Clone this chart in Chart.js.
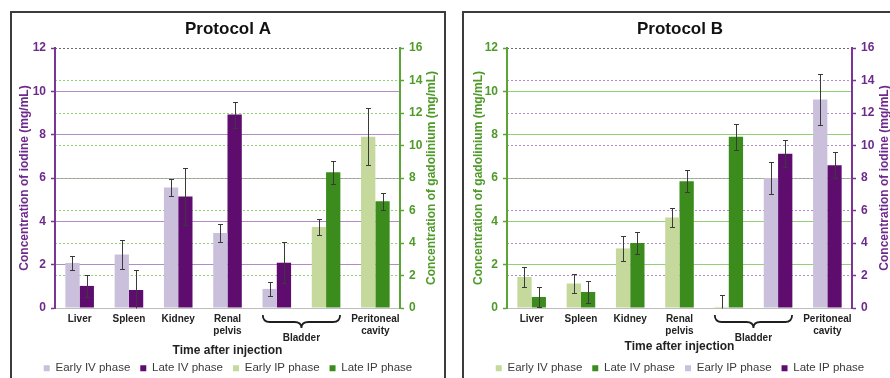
<!DOCTYPE html>
<html><head><meta charset="utf-8">
<script src="https://cdn.jsdelivr.net/npm/chart.js@4.4.0/dist/chart.umd.min.js"></script>
<style>
html,body{margin:0;padding:0;background:#fff;overflow:hidden;width:890px;height:378px;}
.panel{position:absolute;border:2px solid #3c3c3c;width:432px;height:371px;}
#pA{left:10px;top:11px;}
#pB{left:462px;top:11px;}
canvas{display:block;}
</style></head>
<body>
<div class="panel" id="pA"><canvas id="cA" width="432" height="371"></canvas></div>
<div class="panel" id="pB"><canvas id="cB" width="432" height="371"></canvas></div>
<script>
// ---------- data ----------
const categories = ["Liver", "Spleen", "Kidney", ["Renal", "pelvis"], "", "", ["Peritoneal", "cavity"]];
const bracketLabel = "Bladder";
const bracketFrom = 4;
const bracketTo = 5;
const seriesNames = ["Early IV phase", "Late IV phase", "Early IP phase", "Late IP phase"];
const leftTicks = [0, 2, 4, 6, 8, 10, 12];
const rightTicks = [0, 2, 4, 6, 8, 10, 12, 14, 16];
const xTitle = "Time after injection";
const iodineTitle = "Concentration of iodine (mg/mL)";
const gadoTitle = "Concentration of gadolinium (mg/mL)";

// Protocol A (IV -> iodine, left axis; IP -> gadolinium, right axis)
const aEarlyIV    = [2.08, 2.47, 5.56, 3.46, 0.88, null, null];
const aEarlyIVErr = [0.31, 0.65, 0.41, 0.42, 0.31, null, null];
const aLateIV     = [1.02, 0.83, 5.15, 8.93, 2.09, null, null];
const aLateIVErr  = [0.52, 0.91, 1.33, 0.60, 0.95, null, null];
const aEarlyIP    = [null, null, null, null, null, 4.98, 10.54];
const aEarlyIPErr = [null, null, null, null, null, 0.50, 1.75];
const aLateIP     = [null, null, null, null, null, 8.35, 6.57];
const aLateIPErr  = [null, null, null, null, null, 0.70, 0.53];

// Protocol B (IV -> gadolinium, left axis; IP -> iodine, right axis)
const bEarlyIV    = [1.43, 1.13, 2.75, 4.18, 0.05, null, null];
const bEarlyIVErr = [0.44, 0.43, 0.56, 0.44, 0.57, null, null];
const bLateIV     = [0.51, 0.74, 3.00, 5.85, 7.90, null, null];
const bLateIVErr  = [0.47, 0.50, 0.51, 0.50, 0.60, null, null];
const bEarlyIP    = [null, null, null, null, null, 8.00, 12.83];
const bEarlyIPErr = [null, null, null, null, null, 1.00, 1.55];
const bLateIP     = [null, null, null, null, null, 9.50, 8.78];
const bLateIPErr  = [null, null, null, null, null, 0.83, 0.80];

// ---------- styles ----------
const FAM = '"Liberation Sans", Arial, Helvetica, sans-serif';
Chart.defaults.font.family = FAM;
const C = {
  lav: '#cac0dc', purple: '#5e0c6e', lgreen: '#c4d99b', green: '#3b8c1d',
  purpleTxt: '#6d2a8c', purpleAxis: '#7a3596', purpleGrid: '#b28cc6',
  greenTxt: '#4f9b2a', greenAxis: '#5aa534', greenGrid: '#93cf73',
  text: '#222222', topLine: '#6a6a6a'
};
const TRANSP = 'rgba(0,0,0,0)';

const errorBarPlugin = {
  id: 'errorBars',
  afterDatasetsDraw(chart) {
    const ctx = chart.ctx;
    ctx.save();
    ctx.strokeStyle = '#3a3a3a';
    ctx.lineWidth = 1;
    chart.data.datasets.forEach((ds, i) => {
      const meta = chart.getDatasetMeta(i);
      if (!meta.visible || !ds.errors) return;
      const ys = chart.scales[ds.yAxisID];
      meta.data.forEach((bar, j) => {
        const v = ds.data[j], e = ds.errors[j];
        if (v == null || e == null) return;
        const x = Math.round(bar.x) + 0.5;
        const yT = Math.round(ys.getPixelForValue(v + e)) + 0.5;
        const yB = Math.round(ys.getPixelForValue(Math.max(v - e, ys.min))) + 0.5;
        ctx.beginPath();
        ctx.moveTo(x, yT); ctx.lineTo(x, yB);
        ctx.moveTo(x - 2.5, yT); ctx.lineTo(x + 2.5, yT);
        if (v - e > ys.min) { ctx.moveTo(x - 2.5, yB); ctx.lineTo(x + 2.5, yB); }
        ctx.stroke();
      });
    });
    ctx.restore();
  }
};

const bracePlugin = {
  id: 'brace',
  afterDraw(chart, args, opts) {
    const xs = chart.scales.x;
    const ctx = chart.ctx;
    const x1 = xs.getPixelForValue(opts.from) - 14;
    const x2 = xs.getPixelForValue(opts.to) + 14;
    const xm = (x1 + x2) / 2;
    const y0 = xs.top + 7, y1 = xs.top + 14, y2 = xs.top + 20;
    const r = 7;
    ctx.save();
    ctx.strokeStyle = '#1e1e1e';
    ctx.lineWidth = 1.8;
    ctx.beginPath();
    ctx.moveTo(x1, y0);
    ctx.quadraticCurveTo(x1, y1, x1 + r, y1);
    ctx.lineTo(xm - r, y1);
    ctx.quadraticCurveTo(xm, y1, xm, y2);
    ctx.quadraticCurveTo(xm, y1, xm + r, y1);
    ctx.lineTo(x2 - r, y1);
    ctx.quadraticCurveTo(x2, y1, x2, y0);
    ctx.stroke();
    ctx.fillStyle = C.text;
    ctx.font = 'bold 10px ' + FAM;
    ctx.textAlign = 'center';
    ctx.textBaseline = 'middle';
    ctx.fillText(opts.label, xm, xs.top + 30);
    ctx.restore();
  }
};

// right-axis title reading bottom-to-top, like the left one
const rightTitlePlugin = {
  id: 'rightTitle',
  afterDraw(chart, args, opts) {
    const ys = chart.scales.yR;
    const ctx = chart.ctx;
    ctx.save();
    ctx.translate(ys.right - opts.offset, (ys.top + ys.bottom) / 2);
    ctx.rotate(-Math.PI / 2);
    ctx.fillStyle = opts.color;
    ctx.font = 'bold 12px ' + FAM;
    ctx.textAlign = 'center';
    ctx.textBaseline = 'middle';
    ctx.fillText(opts.text, 0, 0);
    ctx.restore();
  }
};

function axisCfg(ticksArr, pos, txtColor, axisColor, gridColor, dashed, title, titlePad, width) {
  const lo = ticksArr[0], hi = ticksArr[ticksArr.length - 1];
  return {
    type: 'linear', position: pos, min: lo, max: hi,
    ticks: { stepSize: ticksArr[1] - ticksArr[0], color: txtColor, padding: 5,
             font: { size: 12, weight: 'bold' } },
    grid: {
      color: c => {
        const v = c.tick ? c.tick.value : null;
        if (v > lo && v < hi) return gridColor;
        if (v === hi && dashed) return C.topLine;
        return TRANSP;
      },
      lineWidth: 1, tickColor: axisColor, tickLength: 4, tickWidth: 1.5
    },
    border: { color: axisColor, width: 2, dash: dashed ? [2, 2] : [] },
    title: { display: pos === 'left', text: title, color: txtColor,
             font: { size: 12, weight: 'bold' }, padding: { top: titlePad, bottom: 0 } },
    afterFit: s => { s.width = width; s.paddingTop = 0; s.paddingBottom = 0; }
  };
}

function makePanel(id, o) {
  const cols = o.colors;
  const sets = [
    [o.d[0], o.e[0], 'yL'], [o.d[1], o.e[1], 'yL'],
    [o.d[2], o.e[2], 'yR'], [o.d[3], o.e[3], 'yR']
  ];
  return new Chart(document.getElementById(id), {
    type: 'bar',
    data: {
      labels: categories,
      datasets: sets.map((s, k) => ({
        label: seriesNames[k], data: s[0], errors: s[1], yAxisID: s[2],
        backgroundColor: cols[k], borderWidth: 0, skipNull: true,
        categoryPercentage: 0.58, barPercentage: 1.0
      }))
    },
    options: {
      responsive: false, animation: false, devicePixelRatio: 1,
      layout: { padding: 0 },
      plugins: {
        title: { display: true, text: o.title, color: '#111',
                 font: { size: 17, weight: 'bold' }, padding: { top: 5.8, bottom: 8.8 } },
        legend: { position: 'bottom',
                  labels: { boxWidth: 6, boxHeight: 6, padding: 10, color: '#3a3a3a',
                            font: { size: 11.5 } } },
        tooltip: { enabled: false },
        brace: { from: bracketFrom, to: bracketTo, label: bracketLabel },
        rightTitle: { text: o.rTitle, color: o.rTxt, offset: o.rTitleOff }
      },
      scales: {
        x: {
          type: 'category', offset: true,
          grid: { display: true, color: TRANSP, drawTicks: false },
          border: { color: '#bdbdbd', width: 1 },
          ticks: { color: C.text, padding: 5, autoSkip: false, maxRotation: 0,
                   font: { size: 10, weight: 'bold', lineHeight: 1.2 } },
          title: { display: true, text: xTitle, color: C.text,
                   font: { size: 12, weight: 'bold' }, padding: { top: 0, bottom: o.xTitlePad } },
          afterFit: s => { s.height = 44.5; s.paddingLeft = 0; s.paddingRight = 0; }
        },
        yL: axisCfg(leftTicks, 'left', o.lTxt, o.lAxis, o.lGrid, false, o.lTitle, o.lTitlePad, 43),
        yR: axisCfg(rightTicks, 'right', o.rTxt, o.rAxis, o.rGrid, true, o.rTitle, 0, 44)
      }
    },
    plugins: [errorBarPlugin, bracePlugin, rightTitlePlugin]
  });
}

makePanel('cA', {
  title: 'Protocol A',
  colors: [C.lav, C.purple, C.lgreen, C.green],
  d: [aEarlyIV, aLateIV, aEarlyIP, aLateIP],
  e: [aEarlyIVErr, aLateIVErr, aEarlyIPErr, aLateIPErr],
  lTxt: C.purpleTxt, lAxis: C.purpleAxis, lGrid: C.purpleGrid, lTitle: iodineTitle, lTitlePad: 5.8,
  rTxt: C.greenTxt, rAxis: C.greenAxis, rGrid: C.greenGrid, rTitle: gadoTitle, rTitleOff: 12.3,
  xTitlePad: -5.4
});
makePanel('cB', {
  title: 'Protocol B',
  colors: [C.lgreen, C.green, C.lav, C.purple],
  d: [bEarlyIV, bLateIV, bEarlyIP, bLateIP],
  e: [bEarlyIVErr, bLateIVErr, bEarlyIPErr, bLateIPErr],
  lTxt: C.greenTxt, lAxis: C.greenAxis, lGrid: C.greenGrid, lTitle: gadoTitle, lTitlePad: 7.1,
  rTxt: C.purpleTxt, rAxis: C.purpleAxis, rGrid: C.purpleGrid, rTitle: iodineTitle, rTitleOff: 11,
  xTitlePad: -1.4
});
</script>
</body></html>
